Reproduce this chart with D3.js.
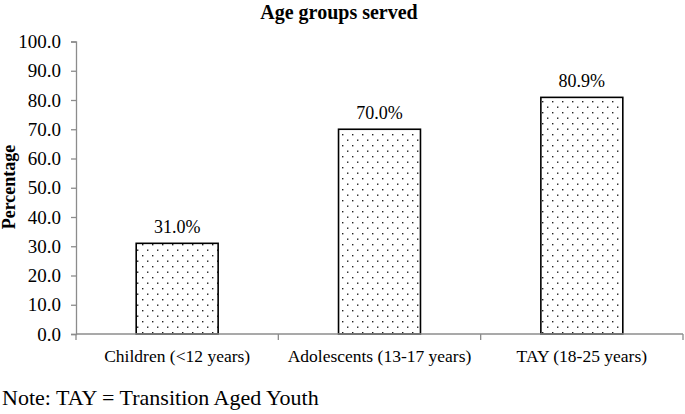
<!DOCTYPE html>
<html>
<head>
<meta charset="utf-8">
<script src="https://cdn.jsdelivr.net/npm/d3@7"></script>
<style>
  html, body { margin: 0; padding: 0; background: #fff; }
  svg { display: block; font-family: "Liberation Serif", "Times New Roman", serif; }
</style>
</head>
<body>
<svg id="chart" width="685" height="414"></svg>
<script>
const categories = ['Children (<12 years)', 'Adolescents (13-17 years)', 'TAY (18-25 years)']
const values = [31.0, 70.0, 80.9]
const yTicks = [0, 10, 20, 30, 40, 50, 60, 70, 80, 90, 100]

const svg = d3.select('#chart')
const axisColor = '#8c8c8c'
const serif = '"Liberation Serif", "Times New Roman", serif'

// Dotted fill used for the bars
const defs = svg.append('defs')
const pat = defs.append('pattern')
  .attr('id', 'dots')
  .attr('patternUnits', 'userSpaceOnUse')
  .attr('width', 10)
  .attr('height', 11)
pat.append('rect').attr('width', 10).attr('height', 11).attr('fill', '#fff')
pat.append('rect').attr('x', 2).attr('y', 2).attr('width', 1.4).attr('height', 1.4).attr('fill', '#222')
pat.append('rect').attr('x', 7).attr('y', 7.5).attr('width', 1.4).attr('height', 1.4).attr('fill', '#222')

const x = d3.scaleBand()
  .domain(categories)
  .range([76, 683])
  .paddingInner(0.595)
  .paddingOuter(0.2975)

const y = d3.scaleLinear()
  .domain([0, 100])
  .range([334, 41.5])

// y axis
const yAxis = svg.append('g')
  .attr('transform', 'translate(76,0)')
  .call(d3.axisLeft(y).tickValues(yTicks).tickSize(5).tickPadding(10).tickFormat(d3.format('.1f')))
yAxis.attr('font-family', null).attr('font-size', null)
yAxis.select('.domain').attr('stroke', axisColor).attr('stroke-width', 1.3)
yAxis.selectAll('.tick line').attr('stroke', axisColor).attr('stroke-width', 1.3)
yAxis.selectAll('.tick text')
  .attr('fill', '#000')
  .style('font-size', '19px')
  .style('font-family', serif)

// bars
svg.append('g').selectAll('rect')
  .data(values)
  .join('rect')
  .attr('x', (d, i) => x(categories[i]))
  .attr('y', d => y(d))
  .attr('width', x.bandwidth())
  .attr('height', d => y(0) - y(d))
  .attr('fill', 'url(#dots)')
  .attr('stroke', '#000')
  .attr('stroke-width', 1.6)

// x axis line and band boundary ticks
const xAxisG = svg.append('g')
xAxisG.append('line')
  .attr('x1', 76).attr('x2', 683)
  .attr('y1', y(0)).attr('y2', y(0))
  .attr('stroke', axisColor).attr('stroke-width', 1.3)
const bounds = [0, 1, 2, 3].map(i => 76 + i * x.step())
xAxisG.selectAll('line.bt')
  .data(bounds)
  .join('line')
  .attr('class', 'bt')
  .attr('x1', d => d).attr('x2', d => d)
  .attr('y1', y(0)).attr('y2', y(0) + 6)
  .attr('stroke', axisColor).attr('stroke-width', 1.3)

xAxisG.selectAll('text')
  .data(categories)
  .join('text')
  .attr('x', d => x(d) + x.bandwidth() / 2)
  .attr('y', 361.5)
  .attr('text-anchor', 'middle')
  .style('font-size', '17.5px')
  .text(d => d)

// value labels
svg.append('g').selectAll('text')
  .data(values)
  .join('text')
  .attr('x', (d, i) => x(categories[i]) + x.bandwidth() / 2)
  .attr('y', d => y(d) - 10)
  .attr('text-anchor', 'middle')
  .style('font-size', '18px')
  .text(d => d3.format('.1f')(d) + '%')

// title
svg.append('text')
  .attr('x', 339)
  .attr('y', 19)
  .attr('text-anchor', 'middle')
  .style('font-size', '20px')
  .style('font-weight', 'bold')
  .text('Age groups served')

// y axis label
svg.append('text')
  .attr('transform', 'translate(15,187) rotate(-90)')
  .attr('text-anchor', 'middle')
  .style('font-size', '18px')
  .style('font-weight', 'bold')
  .text('Percentage')

// note
svg.append('text')
  .attr('x', 2)
  .attr('y', 405)
  .style('font-size', '22px')
  .text('Note: TAY = Transition Aged Youth')
</script>
</body>
</html>
